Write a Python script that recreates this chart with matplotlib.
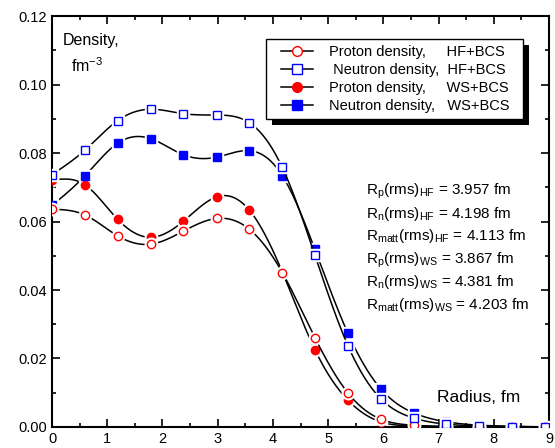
import numpy as np
import matplotlib
matplotlib.use("Agg")
import matplotlib.pyplot as plt
from matplotlib.ticker import MultipleLocator
from matplotlib.patches import Rectangle

plt.rcParams['font.family'] = ['Liberation Sans', 'DejaVu Sans']
plt.rcParams['mathtext.fontset'] = 'custom'
plt.rcParams['mathtext.rm'] = 'Liberation Sans'
plt.rcParams['mathtext.it'] = 'Liberation Sans:italic'

# radius grid (fm)
radius = [0.0, 0.6, 1.19, 1.79, 2.38, 2.98, 3.57, 4.17, 4.76, 5.36, 5.95,
          6.55, 7.14, 7.74, 8.33, 8.93]

# densities (fm^-3)
proton_hf = [0.0636, 0.0619, 0.0558, 0.0534, 0.0572, 0.0609, 0.0578, 0.0451,
             0.0261, 0.0099, 0.0023, 0.0005, 0.0001, 0.0, 0.0, 0.0]
neutron_hf = [0.0737, 0.0809, 0.0895, 0.0928, 0.0915, 0.0911, 0.0889, 0.0758,
              0.0502, 0.0237, 0.0083, 0.0026, 0.0008, 0.0003, 0.0001, 0.0]
proton_ws = [0.0721, 0.0707, 0.0606, 0.0554, 0.0601, 0.0672, 0.0634, 0.0453,
             0.0226, 0.0078, 0.0015, 0.0003, 0.0001, 0.0, 0.0, 0.0]
neutron_ws = [0.0647, 0.0734, 0.0829, 0.0842, 0.0795, 0.0788, 0.0807, 0.0734,
              0.0519, 0.0273, 0.0112, 0.0041, 0.0015, 0.0005, 0.0002, 0.0]

labels = ["Proton density,     HF+BCS", " Neutron density,  HF+BCS",
          "Proton density,     WS+BCS", "Neutron density,   WS+BCS"]

rms_lines = [r"R$_{\rm p}$(rms)$_{\rm HF}$ = 3.957 fm",
             r"R$_{\rm n}$(rms)$_{\rm HF}$ = 4.198 fm",
             r"R$_{\rm matt}$(rms)$_{\rm HF}$ = 4.113 fm",
             r"R$_{\rm p}$(rms)$_{\rm WS}$ = 3.867 fm",
             r"R$_{\rm n}$(rms)$_{\rm WS}$ = 4.381 fm",
             r"R$_{\rm matt}$(rms)$_{\rm WS}$ = 4.203 fm"]


def spline(x, y, n=400):
    # natural cubic spline, only used to draw a smooth line through the points
    x = np.asarray(x, float)
    y = np.asarray(y, float)
    k = len(x)
    h = np.diff(x)
    A = np.zeros((k, k))
    b = np.zeros(k)
    A[0, 0] = A[-1, -1] = 1
    for i in range(1, k - 1):
        A[i, i - 1] = h[i - 1]
        A[i, i] = 2 * (h[i - 1] + h[i])
        A[i, i + 1] = h[i]
        b[i] = 6 * ((y[i + 1] - y[i]) / h[i] - (y[i] - y[i - 1]) / h[i - 1])
    m = np.linalg.solve(A, b)
    xs = np.linspace(x[0], x[-1], n)
    idx = np.clip(np.searchsorted(x, xs) - 1, 0, k - 2)
    x0, x1 = x[idx], x[idx + 1]
    hh = x1 - x0
    t0, t1 = x1 - xs, xs - x0
    ys = (m[idx] * t0 ** 3 / (6 * hh) + m[idx + 1] * t1 ** 3 / (6 * hh)
          + (y[idx] / hh - m[idx] * hh / 6) * t0
          + (y[idx + 1] / hh - m[idx + 1] * hh / 6) * t1)
    return xs, ys


fig = plt.figure(figsize=(5.55, 4.48), dpi=100)
ax = fig.add_axes([0.0937, 0.047, 0.8955, 0.917])

series = [
    (proton_hf, 'o', 'white', 'red', 6),
    (neutron_hf, 's', 'white', 'blue', 5.5),
    (proton_ws, 'o', 'red', 'red', 6),
    (neutron_ws, 's', 'blue', 'blue', 5.5),
]

handles = []
for (vals, mk, fc, ec, ms), lab in zip(series, labels):
    # HF sets sit on top of WS sets
    z = 5 if fc == 'white' else 2
    xs, ys = spline(radius, vals)
    ax.plot(xs, ys, color='black', lw=1.1, zorder=z)
    # white gap around markers
    ax.plot(radius, vals, ls='none', marker=mk, ms=ms + 3, mfc='white',
            mec='white', zorder=z + 0.5)
    ax.plot(radius, vals, ls='none', marker=mk, ms=ms, mfc=fc, mec=ec,
            mew=1.0, zorder=z + 1)
    h, = ax.plot([], [], color='black', lw=1.1, marker=mk, ms=ms + 1,
                 mfc=fc, mec=ec, mew=1.0)
    handles.append(h)

ax.set_xlim(0, 9)
ax.set_ylim(0, 0.12)
ax.xaxis.set_major_locator(MultipleLocator(1))
ax.xaxis.set_minor_locator(MultipleLocator(0.5))
ax.yaxis.set_major_locator(MultipleLocator(0.02))
ax.yaxis.set_minor_locator(MultipleLocator(0.01))
ax.yaxis.set_major_formatter(matplotlib.ticker.FormatStrFormatter('%.2f'))
ax.tick_params(which='both', direction='in', top=True, right=True,
               labelsize=10.5, width=1.2)
ax.tick_params(which='major', length=5.5)
ax.tick_params(which='minor', length=3)
for sp in ax.spines.values():
    sp.set_linewidth(1.5)

ax.text(0.022, 0.93, "Density,", transform=ax.transAxes, fontsize=11.5)
ax.text(0.038, 0.864, r"fm$^{-3}$", transform=ax.transAxes, fontsize=11.5)
ax.text(0.775, 0.06, "Radius, fm", transform=ax.transAxes, fontsize=12.5)

for i, s in enumerate(rms_lines):
    ax.text(0.632, 0.565 - i * 0.0555, s, transform=ax.transAxes, fontsize=11)

leg = ax.legend(handles, labels, loc='upper left', bbox_to_anchor=(0.461, 0.93),
                borderaxespad=0, borderpad=0, frameon=False, fontsize=10.5,
                handlelength=2.2, handletextpad=1.1, labelspacing=0.28)
leg.set_zorder(11)

# frame and solid black drop shadow drawn around the legend contents
fig.canvas.draw()
bb = leg.get_window_extent()
inv = ax.transAxes.inverted()
for dx, fc, ec, zz in [(6, 'black', 'none', 9), (0, 'white', 'black', 10)]:
    (x0, y0), (x1, y1) = inv.transform([[bb.x0 - 15 + dx, bb.y0 - 6 - dx],
                                         [bb.x1 + 13 + dx, bb.y1 + 6 - dx]])
    ax.add_patch(Rectangle((x0, y0), x1 - x0, y1 - y0, transform=ax.transAxes,
                           facecolor=fc, edgecolor=ec, lw=1.0, zorder=zz,
                           clip_on=False))

fig.savefig("out.png", dpi=100)
